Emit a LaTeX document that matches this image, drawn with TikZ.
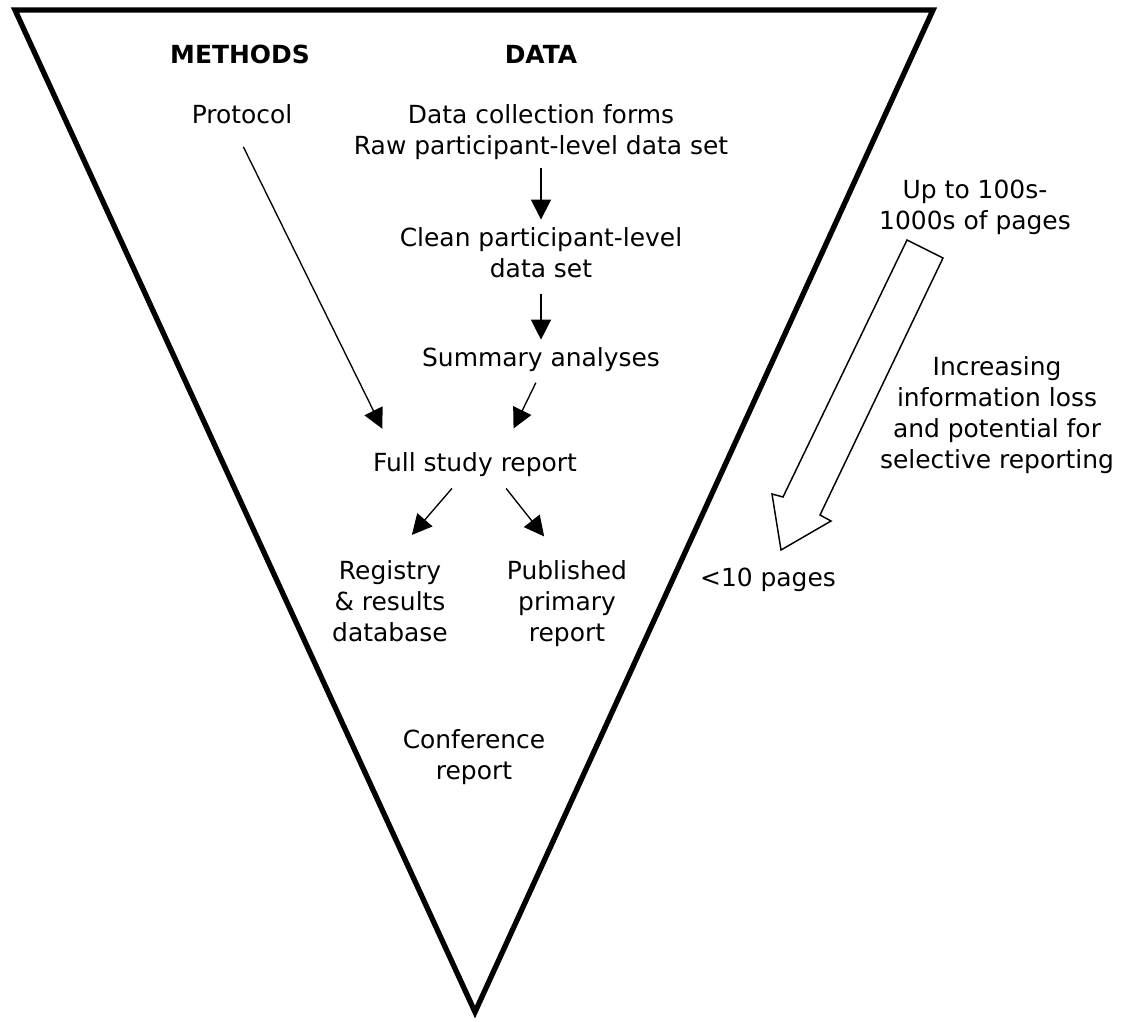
\documentclass[tikz,border=0pt]{standalone}
\usepackage{fontspec}
\setmainfont{DejaVu Sans}
\usetikzlibrary{arrows.meta}

\tikzset{
  lbl/.style={inner sep=6pt, align=center, font=\fontsize{18.7}{23.25}\selectfont},
  head/.style={lbl, font=\fontsize{18.7}{23.25}\selectfont\bfseries},
  flow/.style={line width=1pt, -{Triangle[length=15pt,width=15pt]}},
}

\begin{document}
\begin{tikzpicture}[x=0.75pt,y=0.75pt,yscale=-1,xscale=1]
\useasboundingbox (0,0) rectangle (1124,1021);

%Funnel
\draw [line width=4pt, line join=miter] (15,10) -- (933,10) -- (475,1012) -- cycle ;

%Hollow arrow
\draw [line width=1.1pt, line join=miter, fill=white] (907,240) -- (943,258) -- (820,515) -- (831,521) -- (781,550) -- (772,494) -- (783,497) -- cycle ;

% Text Node
\node [head] (methods) at (240,54) {METHODS};
% Text Node
\node [head] (datahd) at (541,54) {DATA};
% Text Node
\node [lbl] (protocol) at (242,114) {Protocol};
% Text Node
\node [lbl] (raw) at (541,132) {Data collection forms\\Raw participant-level data set};
% Text Node
\node [lbl] (clean) at (541,253) {Clean participant-level\\data set};
% Text Node
\node [lbl] (summary) at (541,360) {Summary analyses};
% Text Node
\node [lbl] (full) at (475,465) {Full study report};
% Text Node
\node [lbl] (registry) at (390,601) {Registry\\\& results\\database};
% Text Node
\node [lbl] (published) at (567,604) {Published\\primary\\report};
% Text Node
\node [lbl] (conference) at (474,757) {Conference\\report};
% Text Node
\node [lbl] (pages) at (975,207) {Up to 100s-\\1000s of pages};
% Text Node
\node [lbl] (loss) at (997,415) {Increasing\\information loss\\and potential for\\selective reporting};
% Text Node
\node [lbl] (few) at (768,580) {<10 pages};

%Arrows
\draw [flow] (raw) -- (clean) ;
\draw [flow, shorten <=6pt] (clean) -- (summary) ;
\draw [flow, shorten <=12.4pt, shorten >=13.3pt] ([xshift=-4.5pt]protocol.south) -- ([xshift=19pt]full.north west) ;
\draw [flow, shorten <=2pt, shorten >=13.5pt] ([xshift=-3pt]summary.south) -- ([xshift=23pt]full.north) ;
\draw [flow, shorten <=3pt, shorten >=17pt] ([xshift=-15.3pt]full.south) -- ([xshift=5.3pt]registry.north) ;
\draw [flow, shorten <=3pt, shorten >=15.5pt] ([xshift=21.5pt]full.south) -- ([xshift=-7.5pt]published.north) ;

\end{tikzpicture}
\end{document}
